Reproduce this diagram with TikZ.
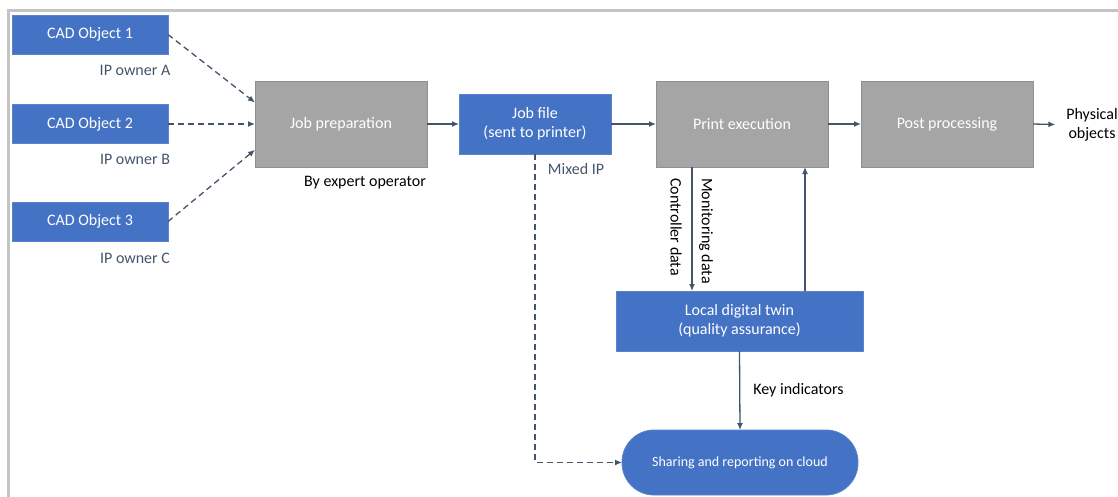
\documentclass[tikz,border=0pt]{standalone}
\usepackage{fontspec}
\setmainfont{Carlito}
\usetikzlibrary{arrows.meta,calc}
\definecolor{boxblue}{HTML}{4472C4}
\definecolor{boxblueedge}{HTML}{5B84CC}
\definecolor{boxgray}{HTML}{A5A5A5}
\definecolor{boxgrayedge}{HTML}{909090}
\definecolor{slate}{HTML}{44546A}
\definecolor{framegray}{HTML}{C4C4C4}
\begin{document}
\begin{tikzpicture}[x=1pt,y=-1pt,
  every node/.style={font=\fontsize{16}{19}\selectfont, outer sep=0pt},
  bluebox/.style={fill=boxblue, draw=boxblueedge, line width=0.8pt, text=white, align=center},
  graybox/.style={fill=boxgray, draw=boxgrayedge, line width=0.8pt, text=white, align=center,
                  minimum width=172, minimum height=86},
  cadbox/.style={bluebox, minimum width=156, minimum height=39},
  note/.style={text=slate},
  plain/.style={text=black},
  arr/.style={draw=slate, line width=1.3pt, -{Latex[length=7pt,width=6pt]}},
  darr/.style={arr, dash pattern=on 6pt off 4pt},
]
\useasboundingbox (0,0) rectangle (1118,496);
% outer frame
\draw[framegray, line width=3pt] (8.5,600) -- (8.5,10.5) -- (1200,10.5);

% sources
\node[cadbox] (cad1) at (90,34.5) {CAD Object 1};
\node[cadbox] (cad2) at (90,124) {CAD Object 2};
\node[cadbox] (cad3) at (90,221.5) {CAD Object 3};
\node[note] (ownA) at (135,70) {IP owner A};
\node[note] (ownB) at (135,159) {IP owner B};
\node[note] (ownC) at (135,258) {IP owner C};

% process chain
\node[graybox] (prep) at (341,124) {Job preparation};
\node[plain] (expert) at (365,183) {By expert operator};
\node[bluebox, minimum width=152, minimum height=60] (job) at (535,124) {Job file\\(sent to printer)};
\node[note] (mixed) at (576,169) {Mixed IP};
\node[graybox] (print) at (742,124) {Print execution};
\node[graybox] (post) at (947,124) {Post processing};
\node[plain, align=center, inner xsep=11pt, inner ysep=0pt] (phys) at (1092,124.5) {Physical\\objects};

% quality loop and cloud
\node[bluebox, minimum width=247, minimum height=60] (twin) at (739.5,321) {Local digital twin\\(quality assurance)};
\node[bluebox, minimum width=236, minimum height=65, rounded corners=32pt,
      font=\fontsize{14}{17}\selectfont] (cloud) at (740,462.5) {Sharing and reporting on cloud};

% inputs into job preparation
\draw[darr] (cad1.east) -- ($(prep.north west)!0.25!(prep.south west)$);
\draw[darr] (cad2.east) -- (prep.west);
\draw[darr] (cad3.east) -- ($(prep.north west)!0.8!(prep.south west)$);

% main flow
\draw[arr] (prep.east) -- (job.west);
\draw[arr] (job.east) -- (print.west);
\draw[arr] (print.east) -- (post.west);
\draw[arr] (post.east) -- (phys.west);

% data to and from the digital twin
\draw[arr] ([xshift=-50]print.south) -- ([xshift=-50]print.south |- twin.north);
\draw[arr] ([xshift=63]print.south |- twin.north) -- ([xshift=63]print.south);
\node[plain, rotate=-90] (ctrl) at (676,227) {Controller data};
\node[plain, rotate=-90] (mon) at (706,231) {Monitoring data};

% reporting
\draw[arr] (twin.south) -- (cloud.north);
\node[plain, anchor=west] (keys) at (750,390) {Key indicators};
\draw[darr] (job.south) |- (cloud.west);
\end{tikzpicture}
\end{document}
